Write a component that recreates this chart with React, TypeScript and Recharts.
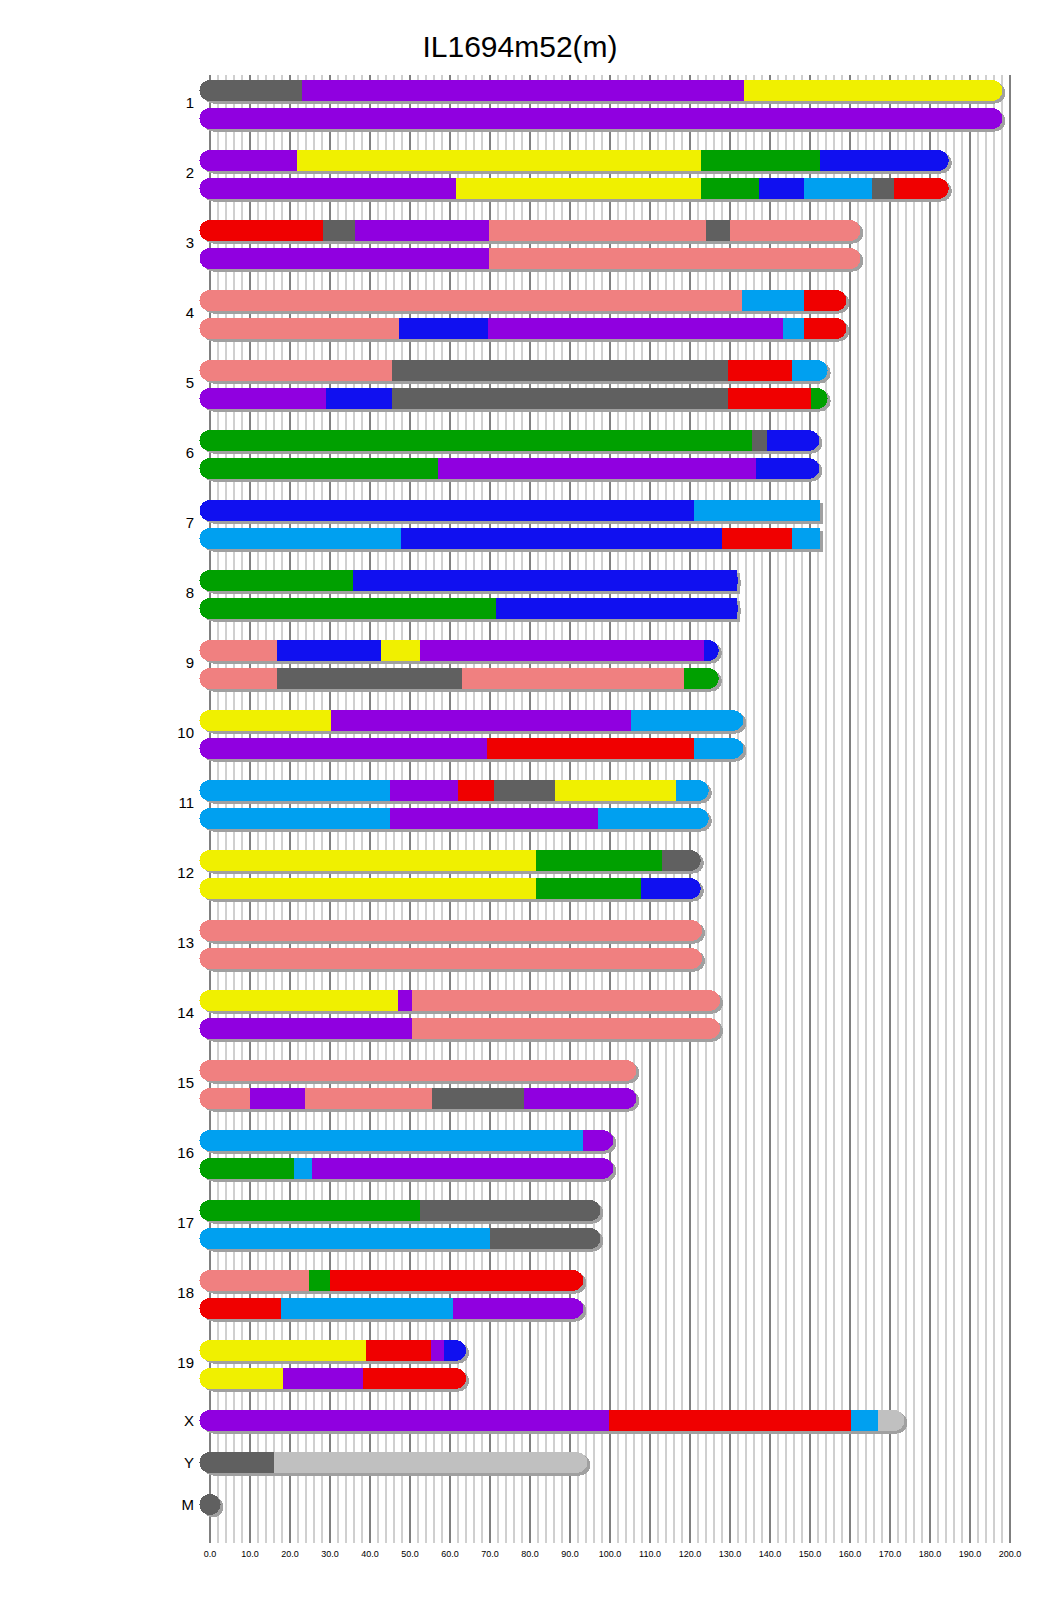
import React from "react";
import { BarChart, Bar, XAxis, YAxis, CartesianGrid } from "recharts";

// founder haplotype colours (CC founder palette)
const FOUNDER_COLORS: Record<string, string> = {
  A: "#F0F000", // A/J
  B: "#606060", // C57BL/6J
  C: "#F08080", // 129S1
  D: "#1010F0", // NOD
  E: "#00A0F0", // NZO
  F: "#00A000", // CAST
  G: "#F00000", // PWK
  H: "#9000E0", // WSB
  N: "#C0C0C0", // no call
};

type Seg = [string, number]; // [founder, block end in Mb]

const chromosomes = ["1", "2", "3", "4", "5", "6", "7", "8", "9", "10", "11", "12", "13", "14", "15", "16", "17", "18", "19", "X", "Y", "M"];
const chromLengths = [195.5, 182.1, 160.0, 156.5, 151.8, 149.7, 145.4, 129.4, 124.6, 130.7, 122.1, 120.1, 120.4, 124.9, 104.0, 98.2, 95.0, 90.7, 61.4, 171.0, 91.7, 0.016];

const chr1a: Seg[] = [["B", 23.0], ["H", 133.6], ["A", 195.5]];
const chr1b: Seg[] = [["H", 195.5]];
const chr2a: Seg[] = [["H", 21.7], ["A", 122.8], ["F", 152.6], ["D", 182.1]];
const chr2b: Seg[] = [["H", 61.4], ["A", 122.8], ["F", 137.3], ["D", 148.5], ["E", 165.6], ["B", 171.1], ["G", 182.1]];
const chr3a: Seg[] = [["G", 28.3], ["B", 36.3], ["H", 69.8], ["C", 124.0], ["B", 129.9], ["C", 160.0]];
const chr3b: Seg[] = [["H", 69.8], ["C", 160.0]];
const chr4a: Seg[] = [["C", 133.0], ["E", 148.5], ["G", 156.5]];
const chr4b: Seg[] = [["C", 47.2], ["D", 69.6], ["H", 143.3], ["E", 148.5], ["G", 156.5]];
const chr5a: Seg[] = [["C", 45.6], ["B", 129.4], ["G", 145.6], ["E", 151.8]];
const chr5b: Seg[] = [["H", 28.9], ["D", 45.6], ["B", 129.4], ["G", 150.3], ["F", 151.8]];
const chr6a: Seg[] = [["F", 135.6], ["B", 139.2], ["D", 149.7]];
const chr6b: Seg[] = [["F", 57.0], ["H", 136.6], ["D", 149.7]];
const chr7a: Seg[] = [["D", 121.1], ["E", 152.5]];
const chr7b: Seg[] = [["E", 47.7], ["D", 128.1], ["G", 145.4], ["E", 152.5]];
const chr8a: Seg[] = [["F", 35.8], ["D", 131.7]];
const chr8b: Seg[] = [["F", 71.4], ["D", 131.7]];
const chr9a: Seg[] = [["C", 16.8], ["D", 42.8], ["A", 52.6], ["H", 123.5], ["D", 124.6]];
const chr9b: Seg[] = [["C", 16.8], ["B", 63.1], ["C", 118.6], ["F", 124.6]];
const chr10a: Seg[] = [["A", 30.2], ["H", 105.2], ["E", 130.7]];
const chr10b: Seg[] = [["H", 69.3], ["G", 120.9], ["E", 130.7]];
const chr11a: Seg[] = [["E", 45.1], ["H", 62.1], ["G", 71.1], ["B", 86.3], ["A", 116.5], ["E", 122.1]];
const chr11b: Seg[] = [["E", 45.1], ["H", 96.9], ["E", 122.1]];
const chr12a: Seg[] = [["A", 81.4], ["F", 113.1], ["B", 120.1]];
const chr12b: Seg[] = [["A", 81.4], ["F", 107.7], ["D", 120.1]];
const chr13a: Seg[] = [["C", 120.4]];
const chr13b: Seg[] = [["C", 120.4]];
const chr14a: Seg[] = [["A", 46.9], ["H", 50.5], ["C", 124.9]];
const chr14b: Seg[] = [["H", 50.5], ["C", 124.9]];
const chr15a: Seg[] = [["C", 104.0]];
const chr15b: Seg[] = [["C", 10.1], ["H", 23.7], ["C", 55.4], ["B", 78.6], ["H", 104.0]];
const chr16a: Seg[] = [["E", 93.3], ["H", 98.2]];
const chr16b: Seg[] = [["F", 20.9], ["E", 25.5], ["H", 98.2]];
const chr17a: Seg[] = [["F", 52.6], ["B", 95.0]];
const chr17b: Seg[] = [["E", 70.1], ["B", 95.0]];
const chr18a: Seg[] = [["C", 24.7], ["F", 29.9], ["G", 90.7]];
const chr18b: Seg[] = [["G", 17.8], ["E", 60.8], ["H", 90.7]];
const chr19a: Seg[] = [["A", 38.9], ["G", 55.2], ["H", 58.5], ["D", 61.4]];
const chr19b: Seg[] = [["A", 18.2], ["H", 38.2], ["G", 61.4]];
const chrXa: Seg[] = [["H", 99.7], ["G", 160.3], ["E", 167.0], ["N", 171.0]];
const chrYa: Seg[] = [["B", 16.0], ["N", 91.7]];
const chrMa: Seg[] = [["B", 0.016]];

const haplotypes: Seg[][][] = [
  [chr1a, chr1b], [chr2a, chr2b], [chr3a, chr3b], [chr4a, chr4b], [chr5a, chr5b],
  [chr6a, chr6b], [chr7a, chr7b], [chr8a, chr8b], [chr9a, chr9b], [chr10a, chr10b],
  [chr11a, chr11b], [chr12a, chr12b], [chr13a, chr13b], [chr14a, chr14b], [chr15a, chr15b],
  [chr16a, chr16b], [chr17a, chr17b], [chr18a, chr18b], [chr19a, chr19b],
  [chrXa], [chrYa], [chrMa],
];

const xTicks = [0, 10, 20, 30, 40, 50, 60, 70, 80, 90, 100, 110, 120, 130, 140, 150, 160, 170, 180, 190, 200];
const minorGrid = Array.from({ length: 101 }, (_, i) => i * 2).filter((v) => v % 10 !== 0);

const MAX_SEGS = 7;
const SLOTS = 102;
const BAR_T = 21;
const SHADOW = "#A0A0A0";

// one row per slot: pair tracks sit 2 slots apart, pairs 5 slots apart, X/Y/M 3 slots apart
const rows: any[] = Array.from({ length: SLOTS }, (_, i) => {
  const r: any = { key: `r${i}`, label: "", pair: false, n: 0, chrLen: 0, st: [] as number[] };
  for (let s = 0; s < MAX_SEGS; s++) { r[`s${s}`] = 0; r[`c${s}`] = ""; }
  return r;
});

function place(slot: number, segs: Seg[], chrLen: number) {
  const r = rows[slot];
  r.n = segs.length;
  r.chrLen = chrLen;
  let start = 0;
  segs.forEach(([f, end], i) => {
    r.st.push(start);
    r[`s${i}`] = end - start;
    r[`c${i}`] = f;
    start = end;
  });
}

haplotypes.forEach((pair, k) => {
  if (k < 19) {
    place(5 * k, pair[0], chromLengths[k]);
    place(5 * k + 2, pair[1], chromLengths[k]);
    rows[5 * k + 1].label = chromosomes[k];
    rows[5 * k + 1].pair = true;
  } else {
    const slot = 95 + 3 * (k - 19);
    place(slot, pair[0], chromLengths[k]);
    rows[slot].label = chromosomes[k];
  }
});

const rowByKey: Record<string, any> = {};
rows.forEach((r) => { rowByKey[r.key] = r; });

const gridAt = (vals: number[]) => ({ xAxis, offset }: any) =>
  vals.map((v) => (xAxis && typeof xAxis.scale === "function" ? xAxis.scale(v) : offset.left + (v / 200) * offset.width));

function Block(props: any) {
  const { x, y, width, height, payload, idx } = props;
  const len = payload ? payload[`s${idx}`] : 0;
  if (!len || !(width > 0)) return <g />;
  const r = BAR_T / 2;
  const top = y + height / 2 - r;
  const bottom = top + BAR_T;
  const ppu = width / len;
  const first = idx === 0;
  const last = idx === payload.n - 1;
  const endX = x + (payload.chrLen - payload.st[idx]) * ppu;
  const color = FOUNDER_COLORS[payload[`c${idx}`]];
  const draw = (dx: number, dy: number, fill: string) => (
    <g transform={`translate(${dx},${dy})`} fill={fill} shapeRendering="crispEdges">
      <rect x={x} y={top} width={width} height={BAR_T} />
      {first && <path d={`M${x},${top} A${r},${r} 0 0 0 ${x},${bottom} Z`} />}
      {last && <path d={`M${endX},${top} A${r},${r} 0 0 1 ${endX},${bottom} Z`} />}
    </g>
  );
  return (
    <g>
      {draw(3, 2.5, SHADOW)}
      {draw(0, 0, color)}
    </g>
  );
}

function ChromTick(props: any) {
  const { x, y, payload } = props;
  const row = rowByKey[payload.value];
  if (!row || !row.label) return <g />;
  return (
    <text x={x} y={row.pair ? y - 2 : y} textAnchor="end" dominantBaseline="central" fontSize={15} fill="#000">
      {row.label}
    </text>
  );
}

export default function App() {
  return (
    <div style={{ position: "relative", width: 1024, height: 1600, fontFamily: "'Liberation Sans', Arial, sans-serif" }}>
      <div style={{ position: "absolute", left: 0, top: 24, width: 1024, textAlign: "center", fontSize: 30, lineHeight: "30px", color: "#000" }}>
        <span style={{ position: "relative", left: 0 }}>IL1694m52(m)</span>
      </div>
      <BarChart
        width={1024}
        height={1600}
        layout="vertical"
        data={rows}
        margin={{ top: 67, right: 22, bottom: 35, left: 142 }}
        barSize={12}
      >
        <CartesianGrid horizontal={false} stroke="#A0A0A0" verticalCoordinatesGenerator={gridAt(minorGrid)} />
        <CartesianGrid horizontal={false} stroke="#000" verticalCoordinatesGenerator={gridAt(xTicks)} />
        <XAxis
          type="number"
          domain={[0, 200]}
          ticks={xTicks}
          interval={0}
          tickFormatter={(v: number) => v.toFixed(1)}
          axisLine={false}
          tickLine={false}
          tick={{ fontSize: 9, fill: "#000" }}
          height={30}
        />
        <YAxis
          type="category"
          dataKey="key"
          width={60}
          interval={0}
          axisLine={false}
          tickLine={false}
          tickSize={0}
          tickMargin={16}
          padding={{ top: 8.5, bottom: 31.5 }}
          tick={<ChromTick />}
        />
        {Array.from({ length: MAX_SEGS }, (_, i) => (
          <Bar
            key={i}
            dataKey={`s${i}`}
            stackId="hap"
            isAnimationActive={false}
            shape={(p: any) => <Block {...p} idx={i} />}
          />
        ))}
      </BarChart>
    </div>
  );
}
